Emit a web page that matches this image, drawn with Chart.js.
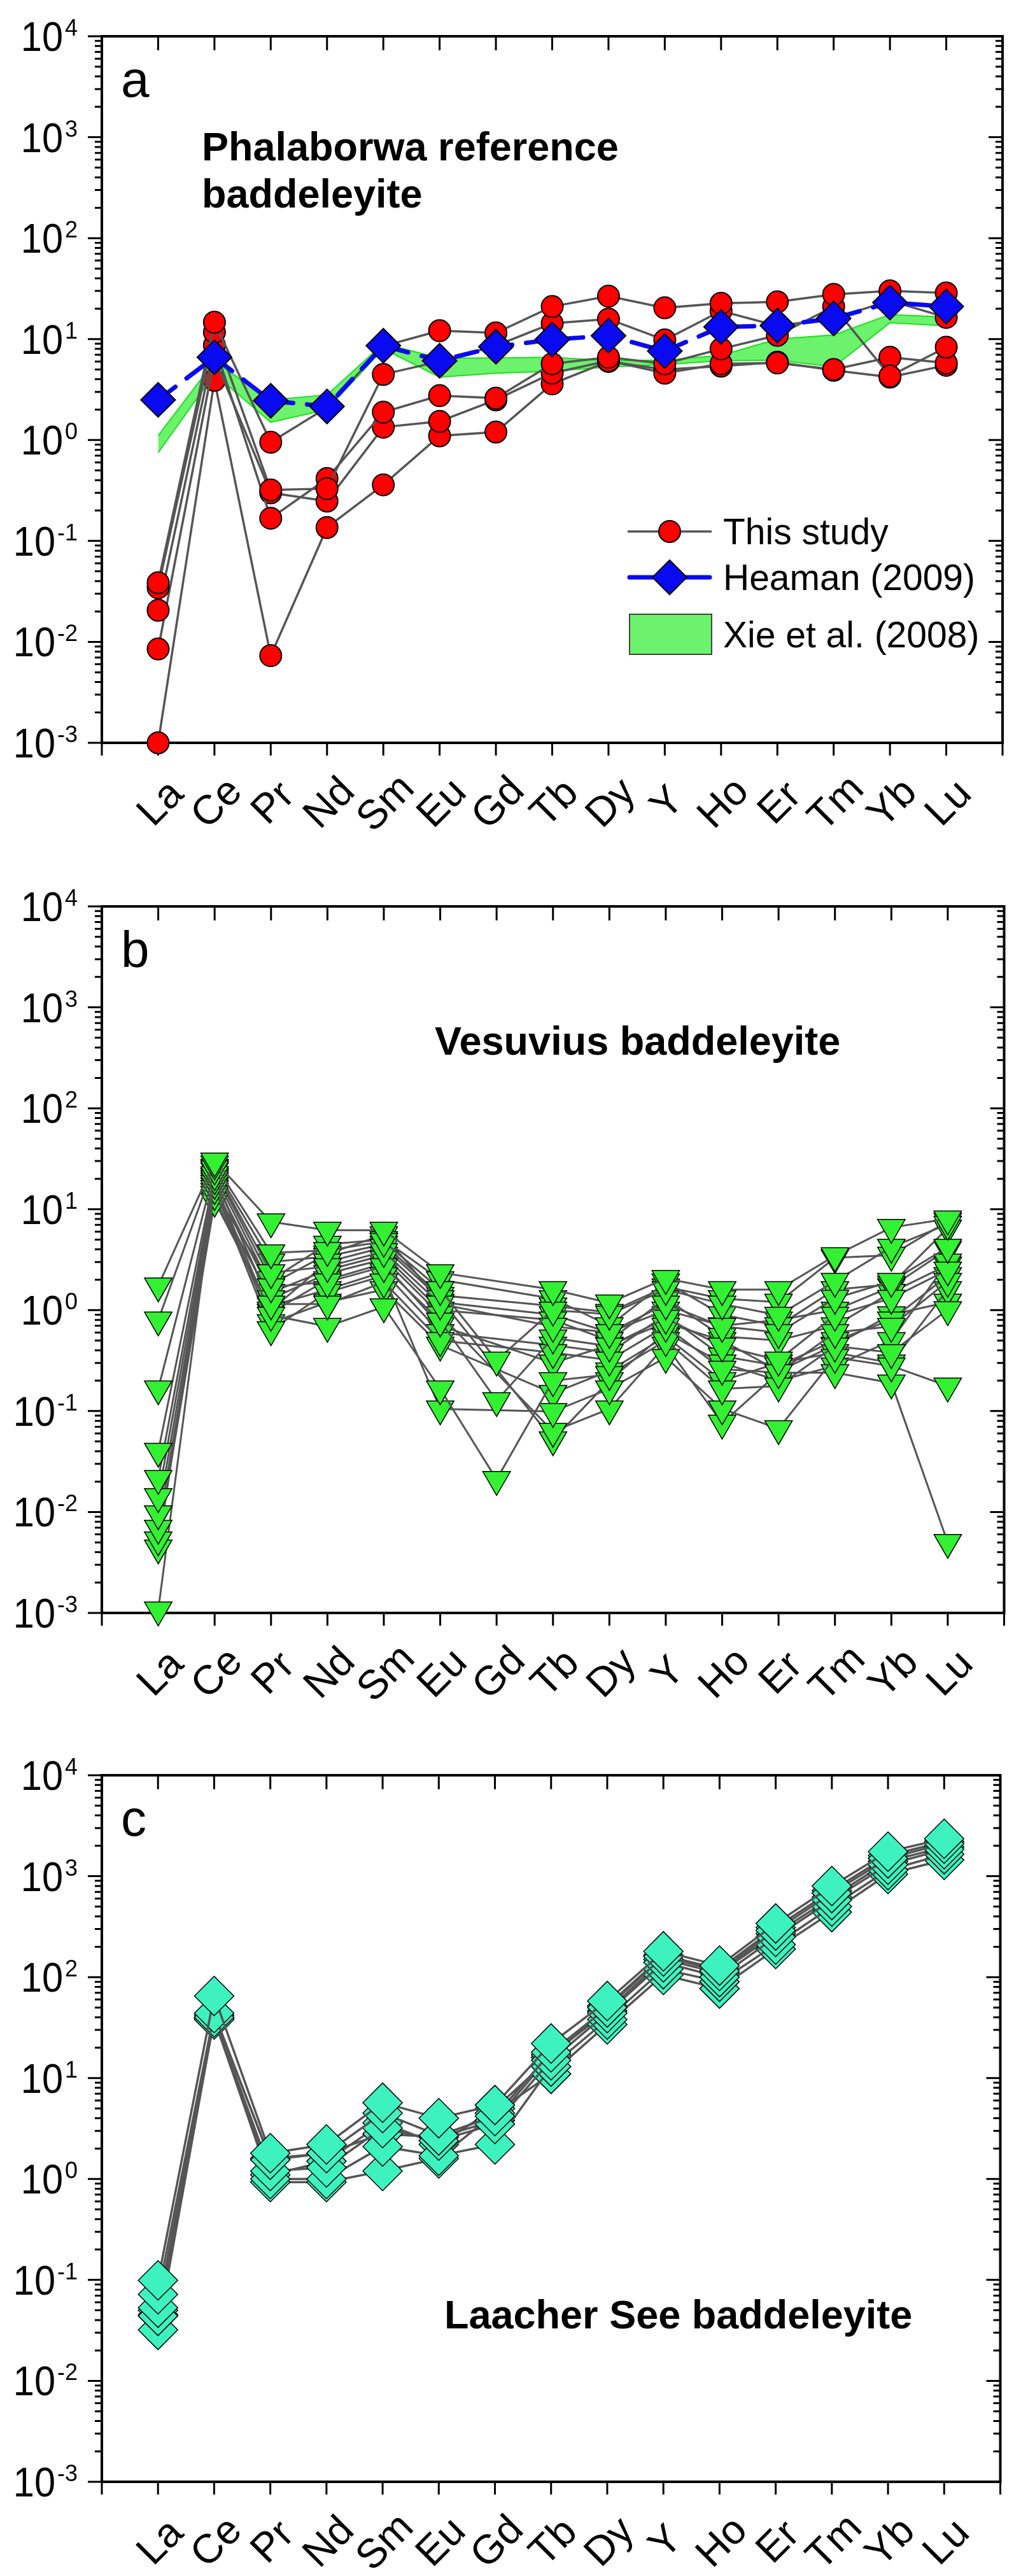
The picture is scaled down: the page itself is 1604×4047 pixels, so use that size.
<!DOCTYPE html>
<html><head><meta charset="utf-8">
<script src="https://cdn.jsdelivr.net/npm/chart.js@4.4.1/dist/chart.umd.min.js"></script>
<style>
html,body{margin:0;padding:0;background:#fff;}
body{width:1604px;height:4047px;position:relative;overflow:hidden;}
canvas{position:absolute;left:0;}
</style></head><body>
<canvas id="ca"></canvas><canvas id="cb"></canvas><canvas id="cc"></canvas>
<script>
// ---------- categories & ticks ----------
const elements = ['La','Ce','Pr','Nd','Sm','Eu','Gd','Tb','Dy','Y','Ho','Er','Tm','Yb','Lu'];
const yExponents = [-3,-2,-1,0,1,2,3,4];

// ---------- panel a : Phalaborwa ----------
const phal1 = [0.0386, 14.7, 0.95, 2.1, 8.5, 12.1, 11.5, 21, 26.6, 20.4, 22.6, 23.4, 27.7, 30, 28.6];
const phal2 = [0.0344, 11.7, 0.32, 0.33, 4.47, 6.0, 8.6, 14.3, 15.8, 9.8, 19, 13.5, 16, 24, 16.4];
const phal3 = [0.0206, 8.7, 0.168, 0.415, 1.89, 2.75, 2.6, 5.7, 6.6, 5.7, 8.0, 10.9, 21, 4.3, 8.3];
const phal4 = [0.0085, 6.5, 0.30, 0.248, 1.34, 1.53, 2.5, 4.6, 6.1, 4.6, 5.7, 5.8, 5.0, 6.6, 5.8];
const phal5 = [0.001, 3.9, 0.0073, 0.136, 0.36, 1.1, 1.2, 3.6, 6.0, 5.0, 5.4, 5.9, 4.9, 4.2, 5.5];
const heaman2009 = [2.5, 6.6, 2.45, 2.15, 8.6, 6.1, 8.4, 9.9, 10.8, 7.6, 13.2, 13.6, 16.0, 23, 21];
const xieUpper = [1.1, 6.0, 2.5, 2.8, 9.0, 6.5, 6.5, 6.6, 6.1, 6.2, 6.9, 10.0, 11.0, 17.5, 16.5];
const xieLower = [0.75, 4.5, 1.5, 2.0, 8.0, 4.2, 4.6, 4.8, 5.3, 5.6, 6.1, 6.2, 5.3, 14.5, 13.5];

// ---------- panel b : Vesuvius ----------
const ves01 = [1.74, 30, 7.5, 6.2, 6.2, 2.35, null, 1.6, 1.18, 2.06, 1.6, 1.6, 3.46, 6.6, 8.0];
const ves02 = [0.80, 28, 3.7, 3.9, 4.8, 1.6, 0.32, 1.0, 0.91, 1.6, 1.15, 0.89, 1.93, 4.2, 7.1];
const ves03 = [0.166, 25, 2.35, 2.7, 3.8, 1.15, null, 0.69, 0.6, 1.15, 0.69, 0.6, 1.31, 1.93, 4.2];
const ves04 = [0.040, 22, 1.7, 1.9, 2.7, 0.78, 0.127, 0.53, 0.44, 0.83, 0.44, 0.32, 0.89, 1.31, 2.5];
const ves05 = [0.0215, 20, 1.15, 1.15, 1.9, 0.5, null, 0.38, 0.32, 0.69, 0.26, 0.24, 0.6, 0.69, 1.93];
const ves06 = [0.0142, 18, 0.89, 0.69, 1.08, 0.166, 0.021, 0.2, 0.23, 0.5, 0.166, 0.177, 0.44, 0.38, 1.01];
const ves07 = [0.0096, 16, 0.64, 1.5, 2.2, 0.105, null, 0.099, 0.166, 0.34, 0.105, 0.067, 0.34, 0.28, 0.177];
const ves08 = [0.0069, 14, 1.3, 2.3, 3.2, 0.9, null, 0.063, 0.105, 0.45, 0.076, 0.24, 0.24, 0.19, 0.005];
const ves09 = [0.0053, 12, 1.0, 3.0, 4.2, 1.3, null, 0.052, 0.2, 0.6, 0.3, 0.2, 0.28, 0.5, 3.0];
const ves10 = [0.0044, 24, 2.0, 4.5, 5.0, 2.0, null, 1.3, 0.7, 1.9, 0.9, 0.7, 1.6, 1.8, 6.5];
const ves11 = [0.00107, 19, 1.5, 2.5, 3.5, 1.0, null, 0.8, 0.5, 1.3, 0.55, 0.5, 0.7, 1.5, 2.8];
const ves12 = [null, 26, 3.0, 3.4, 4.5, 1.4, null, 1.1, 0.95, 1.7, 1.3, 1.2, 3.3, 3.5, 7.6];
const ves13 = [null, 21, 1.1, 1.6, 2.4, 0.6, null, 0.45, 0.38, 0.9, 0.35, 0.28, 0.5, 0.8, 2.2];
const ves14 = [null, 17, 0.75, 1.2, 1.6, 0.45, null, 0.15, 0.25, 0.55, 0.2, 0.3, 0.38, 0.3, 1.6];
const ves15 = [null, 15, 1.8, 3.6, 5.6, 1.2, null, 0.9, 0.6, 1.0, 0.7, 0.8, 1.0, 1.7, 4.0];
const ves16 = [null, 13, 0.95, 2.0, 2.9, 0.7, null, 0.3, 0.45, 0.75, 0.5, 0.25, 0.45, 0.9, 1.2];

// ---------- panel c : Laacher See ----------
const laa1 = [0.099, 65, 1.8, 2.2, 5.7, 4.0, 5.4, 22, 58, 180, 130, 340, 800, 1750, 2350];
const laa2 = [0.072, 44, 1.55, 1.8, 4.5, 2.7, 4.2, 18, 50, 160, 115, 290, 680, 1500, 2100];
const laa3 = [0.053, 40, 1.2, 1.3, 3.2, 2.4, 3.5, 15, 44, 140, 100, 250, 580, 1300, 1850];
const laa4 = [0.044, 38, 1.0, 1.0, 2.1, 1.7, 2.2, 13, 38, 120, 90, 210, 500, 1150, 1650];
const laa5 = [0.032, 39, 0.93, 0.93, 1.2, 1.6, 4.5, 11, 34, 105, 77, 190, 440, 1050, 1450];
const laa6 = [0.050, 42, 1.6, 1.8, 2.8, 2.6, 3.8, 17, 46, 150, 110, 270, 620, 1400, 1950];
const laa7 = [0.045, 40, 1.1, 1.5, 3.6, 2.2, 5.0, 16, 52, 165, 120, 310, 720, 1600, 2200];

// ---------- helpers ----------
const FONT = '"Liberation Sans", Arial, Helvetica, sans-serif';
function pts(values){ return values.map((v,i)=>({x:i+1, y:v})); }

function textScaled(ctx, t, x, y, sx){
  ctx.save(); ctx.translate(x, y); ctx.scale(sx, 1); ctx.fillText(t, 0, 0); ctx.restore();
}

function framePlugin(panel){
  return {
    id: 'frame_' + panel.key,
    beforeDatasetsDraw(chart){
      const ctx = chart.ctx, a = chart.chartArea, xs = chart.scales.x, ys = chart.scales.y;
      ctx.save();
      ctx.strokeStyle = '#000';
      ctx.lineWidth = 3;
      ctx.beginPath();
      const eMin = yExponents[0], eMax = yExponents[yExponents.length-1];
      for (let e = eMin; e <= eMax; e++){
        for (let m = 1; m <= 9; m++){
          if (e === eMax && m > 1) break;
          const py = ys.getPixelForValue(m * Math.pow(10, e));
          const len = m === 1 ? 22 : 11;
          ctx.moveTo(a.left - len, py); ctx.lineTo(a.left, py);
          ctx.moveTo(a.right - len, py); ctx.lineTo(a.right, py);
        }
      }
      for (let i = 0; i <= elements.length + 1; i++){
        const px = xs.getPixelForValue(i);
        ctx.moveTo(px, a.bottom); ctx.lineTo(px, a.bottom + 20);
        if (i >= 1 && i <= elements.length){ ctx.moveTo(px, a.top); ctx.lineTo(px, a.top + 22); }
      }
      ctx.stroke();
      ctx.lineWidth = 4;
      ctx.strokeRect(a.left, a.top, a.right - a.left, a.bottom - a.top);
      ctx.restore();
    },
    afterDraw(chart){
      const ctx = chart.ctx, a = chart.chartArea, xs = chart.scales.x, ys = chart.scales.y;
      ctx.save();
      ctx.fillStyle = '#000';
      // y tick labels 10^n
      ctx.textBaseline = 'alphabetic';
      ctx.textAlign = 'right';
      yExponents.forEach(e => {
        const py = ys.getPixelForValue(Math.pow(10, e));
        const es = String(e);
        ctx.font = '36px ' + FONT;
        const ew = ctx.measureText(es).width;
        ctx.fillText(es, a.left - 38, py - 1);
        ctx.font = '64px ' + FONT;
        textScaled(ctx, '10', a.left - 38 - ew - 3, py + 23, 0.93);
      });
      // x tick labels rotated
      ctx.font = '64px ' + FONT;
      ctx.textAlign = 'center';
      ctx.textBaseline = 'middle';
      elements.forEach((el, i) => {
        const px = xs.getPixelForValue(i + 1);
        ctx.save();
        ctx.translate(px + 5, a.bottom + 96);
        ctx.rotate(-Math.PI / 4);
        ctx.fillText(el, 0, 0);
        ctx.restore();
      });
      // panel letter
      ctx.textAlign = 'left';
      ctx.textBaseline = 'alphabetic';
      ctx.font = '80px ' + FONT;
      ctx.fillText(panel.letter, 190, a.top + 95);
      // title
      ctx.font = 'bold 63px ' + FONT;
      panel.title.forEach((line, k) => {
        ctx.fillText(line, panel.titleX, panel.titleY + k * 74 - panel.canvasTop);
      });
      ctx.restore();
      if (panel.legend) panel.legend(chart);
    }
  };
}

function drawLegendA(chart){
  const ctx = chart.ctx;
  ctx.save();
  // row 1: This study
  let y = 835;
  ctx.strokeStyle = '#555'; ctx.lineWidth = 3.5;
  ctx.beginPath(); ctx.moveTo(986, y); ctx.lineTo(1118, y); ctx.stroke();
  ctx.fillStyle = '#FF0000'; ctx.strokeStyle = '#000'; ctx.lineWidth = 2;
  ctx.beginPath(); ctx.arc(1052, y, 17, 0, Math.PI * 2); ctx.fill(); ctx.stroke();
  ctx.fillStyle = '#000'; ctx.font = '57px ' + FONT; ctx.textAlign = 'left'; ctx.textBaseline = 'alphabetic';
  ctx.fillText('This study', 1136, y + 20);
  // row 2: Heaman
  y = 907;
  ctx.strokeStyle = '#0A0AF0'; ctx.lineWidth = 7; ctx.lineCap = 'round';
  ctx.beginPath(); ctx.moveTo(989, y); ctx.lineTo(1115, y); ctx.stroke();
  ctx.lineCap = 'butt';
  ctx.fillStyle = '#0A0AF0'; ctx.strokeStyle = '#000'; ctx.lineWidth = 2;
  ctx.beginPath(); ctx.moveTo(1052 - 27, y); ctx.lineTo(1052, y - 27); ctx.lineTo(1052 + 27, y); ctx.lineTo(1052, y + 27); ctx.closePath();
  ctx.fill(); ctx.stroke();
  ctx.fillStyle = '#000';
  ctx.fillText('Heaman (2009)', 1136, y + 20);
  // row 3: Xie band
  ctx.fillStyle = '#6CF26C'; ctx.strokeStyle = '#444'; ctx.lineWidth = 2;
  ctx.fillRect(989, 965, 129, 63); ctx.strokeRect(989, 965, 129, 63);
  ctx.fillStyle = '#000';
  ctx.fillText('Xie et al. (2008)', 1136, 1017);
  ctx.restore();
}

function baseOptions(pad){
  return {
    responsive: false, animation: false, devicePixelRatio: 1, events: [],
    layout: { padding: pad },
    plugins: { legend: { display: false }, tooltip: { enabled: false } },
    scales: {
      x: { type: 'linear', min: 0, max: elements.length + 1, display: false },
      y: { type: 'logarithmic', min: 0.001, max: 10000, display: false }
    }
  };
}

function makeChart(id, top, height, datasets, panel){
  const cv = document.getElementById(id);
  cv.width = 1604; cv.height = height;
  cv.style.top = top + 'px'; cv.style.width = '1604px'; cv.style.height = height + 'px';
  panel.canvasTop = top;
  const plotH = 1110;
  const pad = { left: 160, right: 4, top: 57, bottom: height - 57 - plotH };
  return new Chart(cv.getContext('2d'), {
    type: 'line',
    data: { datasets },
    options: baseOptions(pad),
    plugins: [framePlugin(panel)]
  });
}

// ---------- panel a datasets ----------
const studyStyle = { borderColor: '#555', borderWidth: 3.5, pointStyle: 'circle', pointRadius: 17,
  pointBackgroundColor: '#FF0000', pointBorderColor: '#000', pointBorderWidth: 2, fill: false,
  tension: 0, spanGaps: true, clip: false, order: 1 };
const dsA = [
  { label: 'Heaman (2009)', data: pts(heaman2009), borderColor: '#0A0AF0', borderWidth: 7, borderDash: [34, 22],
    borderCapStyle: 'round', pointStyle: 'rectRot', pointRadius: 27, pointBackgroundColor: '#0A0AF0',
    pointBorderColor: '#000', pointBorderWidth: 2, fill: false, clip: false, order: 0 },
  ...[phal1, phal2, phal3, phal4, phal5].map(v => Object.assign({ data: pts(v) }, studyStyle)),
  { label: 'Xie lower', data: pts(xieLower), borderColor: '#1EE01E', borderWidth: 2, pointRadius: 0,
    fill: false, clip: false, order: 2 },
  { label: 'Xie et al. (2008)', data: pts(xieUpper), borderColor: '#1EE01E', borderWidth: 2, pointRadius: 0,
    backgroundColor: '#6CF26C', fill: '-1', clip: false, order: 2 }
];

// ---------- panel b datasets ----------
const vesStyle = { borderColor: '#555', borderWidth: 3, pointStyle: 'triangle', rotation: 180, pointRadius: 25,
  pointBackgroundColor: '#33F033', pointBorderColor: '#000', pointBorderWidth: 1.5, fill: false,
  spanGaps: true, clip: false };
const dsB = [ves01, ves02, ves03, ves04, ves05, ves06, ves07, ves08, ves09, ves10, ves11, ves12, ves13, ves14, ves15, ves16]
  .map(v => Object.assign({ data: pts(v) }, vesStyle));

// ---------- panel c datasets ----------
const laaStyle = { borderColor: '#555', borderWidth: 3.5, pointStyle: 'rectRot', pointRadius: 31,
  pointBackgroundColor: '#3DF2BE', pointBorderColor: '#000', pointBorderWidth: 1.5, fill: false,
  spanGaps: true, clip: false };
const dsC = [laa1, laa2, laa3, laa4, laa5, laa6, laa7].map(v => Object.assign({ data: pts(v) }, laaStyle));

makeChart('ca', 0, 1367, dsA, { key: 'a', letter: 'a', title: ['Phalaborwa reference', 'baddeleyite'],
  titleX: 317, titleY: 252, legend: drawLegendA });
makeChart('cb', 1367, 1365, dsB, { key: 'b', letter: 'b', title: ['Vesuvius baddeleyite'], titleX: 683, titleY: 1657 });
makeChart('cc', 2732, 1315, dsC, { key: 'c', letter: 'c', title: ['Laacher See baddeleyite'], titleX: 698, titleY: 3658 });
</script>
</body></html>
